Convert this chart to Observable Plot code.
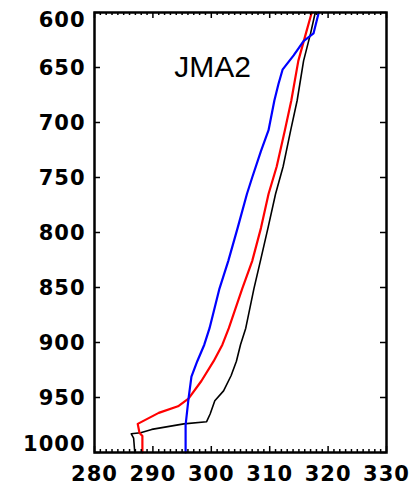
<!DOCTYPE html>
<html>
<head>
<meta charset="utf-8">
<script src="https://cdn.jsdelivr.net/npm/d3@7"></script>
<script src="https://cdn.jsdelivr.net/npm/@observablehq/plot@0.6"></script>
<style>body{margin:0;background:#fff}</style>
</head>
<body>
<div id="chart"></div>
<script>
// Tick values
const xTicks = [280, 290, 300, 310, 320, 330];
const xMinor = d3.range(281, 330).filter(v => v % 10 !== 0);
const yTicks = [600, 650, 700, 750, 800, 850, 900, 950, 1000];
const panelLabel = "JMA2";

// Black profile (pressure hPa, potential temperature K)
const blackP = [600,619,644,680,707,740,765,796,826,851,887,902,917,930,944,953,965,972,974,979,982,983,987,1000];
const blackT = [317.8,317.0,315.8,314.7,313.6,312.3,311.0,309.7,308.4,307.3,305.9,305.0,304.3,303.4,302.1,300.6,299.8,299.2,295.3,289.8,287.9,286.3,286.7,286.9];

// Red profile
const redP = [600,619,644,680,707,740,765,796,826,851,887,902,917,935,951,958,964,974,982,985,1000];
const redT = [317.2,316.2,314.9,313.7,312.6,311.2,309.8,308.5,307.0,305.3,303.0,301.9,300.4,298.3,296.1,294.3,291.0,287.4,287.7,288.2,288.2];

// Blue profile
const blueP = [600,619,626,639,652,665,680,707,726,750,765,796,826,851,887,902,917,931,951,975,1000];
const blueT = [318.4,317.5,315.8,314.1,312.2,311.5,310.8,309.8,308.5,307.0,306.1,304.5,302.9,301.4,299.7,298.8,297.6,296.6,296.1,295.6,295.6];

const toRows = (P, T) => P.map((p, i) => ({p, t: T[i]}));
const black = toRows(blackP, blackT);
const red = toRows(redP, redT);
const blue = toRows(blueP, blueT);

const W = 414, H = 498, mL = 94, mR = 28, mT = 12, mB = 46;
const innerW = W - mL - mR, innerH = H - mT - mB;

const chart = Plot.plot({
  width: W, height: H,
  marginLeft: mL, marginRight: mR, marginTop: mT, marginBottom: mB,
  x: {domain: [280, 330], axis: null},
  y: {domain: [600, 1000], reverse: true, axis: null},
  style: {fontFamily: "DejaVu Sans", fontSize: "21px", fontWeight: "bold", background: "white", color: "black", letterSpacing: "1px"},
  marks: [
    Plot.line(black, {x: "t", y: "p", stroke: "black", strokeWidth: 1.6}),
    Plot.line(red, {x: "t", y: "p", stroke: "red", strokeWidth: 2.2}),
    Plot.line(blue, {x: "t", y: "p", stroke: "blue", strokeWidth: 2.2}),
    // x ticks (inward) bottom & top
    Plot.ruleX(xMinor, {x: d => d, insetTop: innerH - 3, stroke: "black", strokeWidth: 1.5}),
    Plot.ruleX(xTicks, {x: d => d, insetTop: innerH - 6, stroke: "black", strokeWidth: 1.5}),
    Plot.ruleX(xMinor, {x: d => d, insetBottom: innerH - 3, stroke: "black", strokeWidth: 1.5}),
    Plot.ruleX(xTicks, {x: d => d, insetBottom: innerH - 6, stroke: "black", strokeWidth: 1.5}),
    // y ticks (inward) left & right
    Plot.ruleY(yTicks, {y: d => d, insetRight: innerW - 6, stroke: "black", strokeWidth: 1.5}),
    Plot.ruleY(yTicks, {y: d => d, insetLeft: innerW - 6, stroke: "black", strokeWidth: 1.5}),
    Plot.frame({stroke: "black", strokeWidth: 2.5}),
    // y labels
    Plot.text(yTicks.filter(d => d > 600 && d < 1000), {y: d => d, text: d => String(d), frameAnchor: "left", textAnchor: "end", dx: -9, dy: 1, fill: "black"}),
    Plot.text([600], {y: d => d, text: d => String(d), frameAnchor: "left", textAnchor: "end", dx: -9, dy: 8, fill: "black"}),
    Plot.text([1000], {y: d => d, text: d => String(d), frameAnchor: "left", textAnchor: "end", dx: -9, dy: -8, fill: "black"}),
    // x labels
    Plot.text(xTicks, {x: d => d, text: d => String(d), frameAnchor: "bottom", dy: 28, dx: 0, fill: "black"}),
    // panel label
    Plot.text([panelLabel], {text: d => d, frameAnchor: "top", dx: -28, dy: 43, fontSize: 30, fontWeight: "normal", fontFamily: "Liberation Sans", fill: "black"})
  ]
});
document.getElementById("chart").appendChild(chart);
d3.select(chart).selectAll("text").filter(function() { return this.textContent === panelLabel; }).style("letter-spacing", "0px");
</script>
</body>
</html>
